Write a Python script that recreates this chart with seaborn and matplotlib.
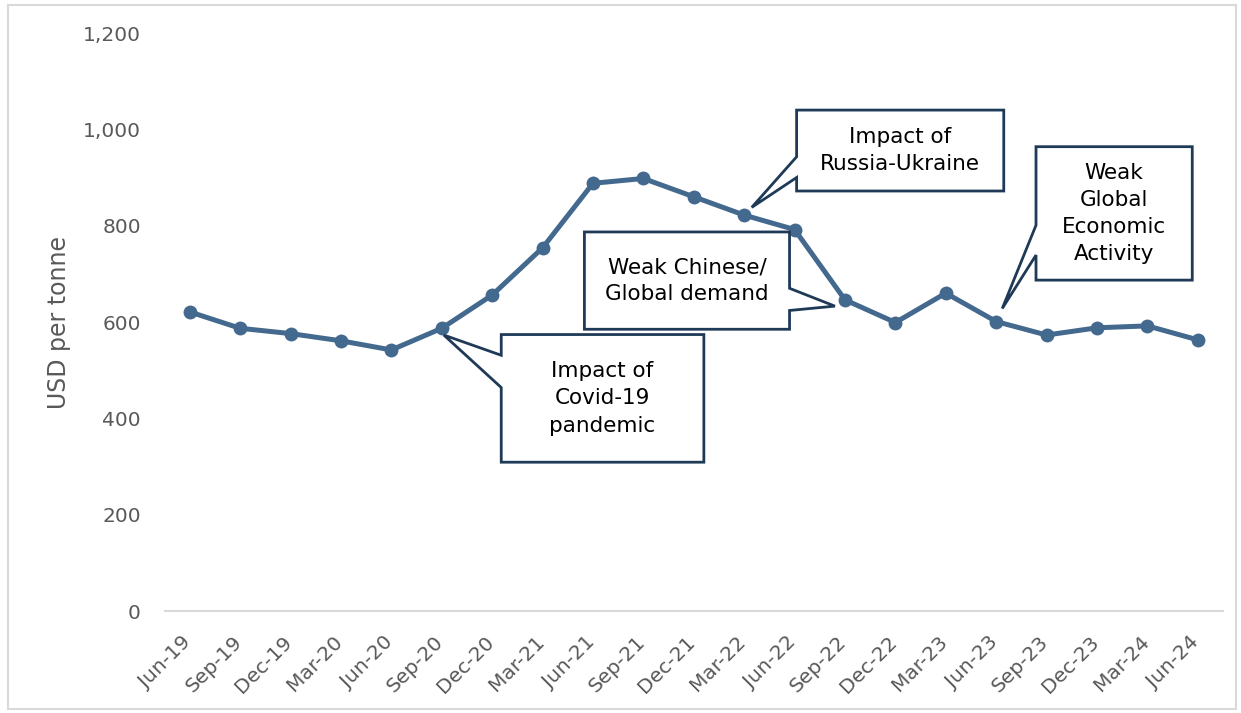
import matplotlib
matplotlib.use("Agg")
import matplotlib.pyplot as plt
import matplotlib.ticker as mticker
import matplotlib.transforms as mtransforms
from matplotlib.patches import Polygon, Rectangle
import numpy as np
import pandas as pd
import seaborn as sns

# Quarterly prices, USD per tonne
quarters = ["Jun-19", "Sep-19", "Dec-19", "Mar-20", "Jun-20", "Sep-20", "Dec-20",
            "Mar-21", "Jun-21", "Sep-21", "Dec-21", "Mar-22", "Jun-22", "Sep-22",
            "Dec-22", "Mar-23", "Jun-23", "Sep-23", "Dec-23", "Mar-24", "Jun-24"]
price = [621, 587, 576, 561, 542, 587, 656, 754, 888, 898, 860, 822, 792, 646,
         599, 660, 601, 573, 588, 592, 563]

y_ticks = [0, 200, 400, 600, 800, 1000, 1200]

# Callout texts and the quarter each one points at
callout_texts = ["Impact of\nCovid-19\npandemic",
                 "Weak Chinese/\nGlobal demand",
                 "Impact of\nRussia-Ukraine",
                 "Weak\nGlobal\nEconomic\nActivity"]
callout_targets = ["Sep-20", "Sep-22", "Mar-22", "Jun-23"]

LINE = "#44698E"
EDGE = "#1F3A57"
GREY = "#595959"

sns.set_theme(style="white")
plt.rcParams["font.family"] = ["DejaVu Sans"]

df = pd.DataFrame({"pos": np.arange(len(quarters)), "quarter": quarters, "price": price})

fig = plt.figure(figsize=(12.41, 7.13), dpi=100)
ax = fig.add_axes([0.1326, 0.1430, 0.8529, 0.8107])

sns.lineplot(data=df, x="pos", y="price", ax=ax, color=LINE, linewidth=3.6,
             marker="o", markersize=10, markeredgewidth=0, zorder=3)

ax.set_xlim(-0.5, len(quarters) - 0.5)
ax.set_ylim(0, 1200)
ax.set_yticks(y_ticks)
ax.yaxis.set_major_formatter(mticker.FuncFormatter(lambda v, p: f"{v:,.0f}"))
ax.tick_params(axis="y", length=0, pad=17, labelsize=14.5, labelcolor=GREY)

# category labels at centres, tick marks at boundaries
ax.set_xticks(df["pos"])
ax.set_xticklabels(quarters, rotation=45, ha="right", va="top",
                   rotation_mode="anchor", fontsize=14.5, color=GREY)
ax.tick_params(axis="x", which="major", length=0, pad=6)
shift = mtransforms.ScaledTranslation(-8 / 100, -13 / 100, fig.dpi_scale_trans)
for lbl in ax.get_xticklabels():
    lbl.set_transform(lbl.get_transform() + shift)
ax.set_xticks(np.arange(-0.5, len(quarters), 1.0), minor=True)
ax.tick_params(axis="x", which="minor", length=8, width=1.5, color="#D9D9D9",
               direction="out")

for s in ["top", "right", "left"]:
    ax.spines[s].set_visible(False)
ax.spines["bottom"].set_color("#D9D9D9")
ax.spines["bottom"].set_linewidth(1.5)

ax.set_xlabel("")
ax.set_ylabel("USD per tonne", fontsize=17, color=GREY)
ax.yaxis.set_label_coords(-0.0885, 0.5)


def callout(text, box, base, side, tip):
    """Rectangle with a wedge pointer; box=(x0, x1, y0, y1) in data units."""
    x0, x1, y0, y1 = box
    b_hi, b_lo = base
    if side == "left":
        pts = [(x0, y1), (x1, y1), (x1, y0), (x0, y0), (x0, b_lo), tip, (x0, b_hi)]
    else:
        pts = [(x0, y1), (x1, y1), (x1, b_hi), tip, (x1, b_lo), (x1, y0), (x0, y0)]
    ax.add_patch(Polygon(pts, closed=True, facecolor="white", edgecolor=EDGE,
                         linewidth=2, zorder=4, joinstyle="miter"))
    ax.text((x0 + x1) / 2, (y0 + y1) / 2, text, ha="center", va="center",
            fontsize=15.5, color="black", linespacing=1.45, zorder=5)


idx = {q: i for i, q in enumerate(quarters)}
val = dict(zip(quarters, price))

callout(callout_texts[0], (6.18, 10.2, 309, 574), (531, 464), "left",
        (idx[callout_targets[0]] + 0.04, val[callout_targets[0]] - 14))
callout(callout_texts[1], (7.83, 11.9, 585, 787), (670, 624), "right",
        (idx[callout_targets[1]] - 0.2, val[callout_targets[1]] - 13))
callout(callout_texts[2], (12.04, 16.15, 872, 1040), (943, 900), "left",
        (idx[callout_targets[2]] + 0.15, val[callout_targets[2]] + 16))
callout(callout_texts[3], (16.79, 19.89, 687, 964), (801, 739), "left",
        (idx[callout_targets[3]] + 0.12, val[callout_targets[3]] + 27))

# light frame round the figure
fig.add_artist(Rectangle((8 / 1241, 4 / 713), 1228 / 1241, 704 / 713,
                         transform=fig.transFigure, fill=False,
                         edgecolor="#D9D9D9", linewidth=1.5))

fig.savefig("out.png", dpi=100)
